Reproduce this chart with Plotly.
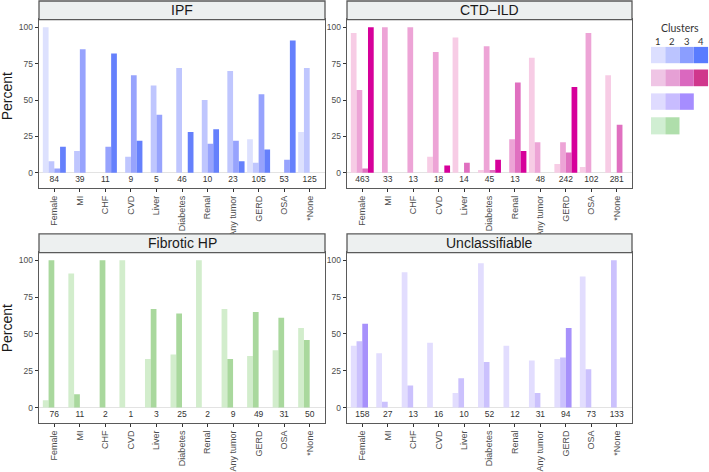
import plotly.graph_objects as go

W, H = 709, 472

categories = ["Female", "MI", "CHF", "CVD", "Liver", "Diabetes", "Renal",
              "Any tumor", "GERD", "OSA", "*None"]
cluster_names = ["1", "2", "3", "4"]

# IPF
ipf_c1 = [100, 0, 0, 0, 0, 0, 0, 0, 23, 0, 28]
ipf_c2 = [8, 15, 0, 11, 60, 72, 50, 70, 7, 0, 72]
ipf_c3 = [3, 85, 18, 67, 40, 0, 20, 22, 54, 9, 0]
ipf_c4 = [18, 0, 82, 22, 0, 28, 30, 8, 16, 91, 0]
ipf_n = [84, 39, 11, 9, 5, 46, 10, 23, 105, 53, 125]

# CTD-ILD
ctd_c1 = [96, 0, 0, 11, 93, 2, 0, 79, 6, 4, 67]
ctd_c2 = [57, 100, 100, 83, 0, 87, 23, 21, 21, 96, 0]
ctd_c3 = [3, 0, 0, 0, 7, 2, 62, 0, 14, 0, 33]
ctd_c4 = [100, 0, 0, 5, 0, 9, 15, 0, 59, 0, 0]
ctd_n = [463, 33, 13, 18, 14, 45, 13, 48, 242, 102, 281]

# Fibrotic HP (clusters 1-2 only)
hp_c1 = [5, 91, 0, 100, 33, 36, 100, 67, 35, 39, 54]
hp_c2 = [100, 9, 100, 0, 67, 64, 0, 33, 65, 61, 46]
hp_n = [76, 11, 2, 1, 3, 25, 2, 9, 49, 31, 50]

# Unclassifiable (clusters 1-3 only)
unc_c1 = [42, 37, 92, 44, 10, 98, 42, 32, 33, 89, 0]
unc_c2 = [45, 4, 15, 0, 20, 31, 0, 10, 34, 26, 100]
unc_c3 = [57, 0, 0, 0, 0, 0, 0, 0, 54, 0, 0]
unc_n = [158, 27, 13, 16, 10, 52, 12, 31, 94, 73, 133]

ipf_colors = ["#dde1fe", "#bfc6fe", "#97a3fd", "#6580fc"]
ctd_colors = ["#f7cce5", "#eda4d6", "#e070c0", "#d6009a"]
hp_colors = ["#d2edcc", "#a9d89d"]
unc_colors = ["#e2ddfe", "#cbc1fd", "#a791fb"]

leg_ipf = ["#dcdfff", "#bbc4ff", "#8b9eff", "#5a7cff"]
leg_ctd = ["#efc5e5", "#e6a0d5", "#da68bf", "#d0378c"]
leg_unc = ["#dfdbff", "#c8bcff", "#a68dff"]
leg_hp = ["#d0eed2", "#afdeab"]

panels = [
    ("IPF", [ipf_c1, ipf_c2, ipf_c3, ipf_c4], ipf_colors, ipf_n),
    ("CTD\u2212ILD", [ctd_c1, ctd_c2, ctd_c3, ctd_c4], ctd_colors, ctd_n),
    ("Fibrotic HP", [hp_c1, hp_c2], hp_colors, hp_n),
    ("Unclassifiable", [unc_c1, unc_c2, unc_c3], unc_colors, unc_n),
]

# panel pixel boxes (left, right, top, bottom)
boxes = [(39, 325, 20, 191), (347, 632, 20, 191),
         (39, 325, 257, 430), (347, 632, 257, 430)]
strip_h = 19

def px(x):
    return x / W

def py(y):
    return 1 - y / H

fig = go.Figure()
layout = dict(
    width=W, height=H, margin=dict(l=0, r=0, t=0, b=0),
    paper_bgcolor="white", plot_bgcolor="white",
    barmode="group", bargap=0.1, bargroupgap=0,
    showlegend=False, hovermode=False,
    font=dict(family="Liberation Sans, Arial, sans-serif", color="#333333"),
)
shapes = []
annotations = []

for i, (title, series, colors, counts) in enumerate(panels):
    k = "" if i == 0 else str(i + 1)
    xa, ya = "x" + k, "y" + k
    for j in range(4):
        vals = series[j] if j < len(series) else [0] * len(categories)
        col = colors[j] if j < len(colors) else "rgba(0,0,0,0)"
        fig.add_trace(go.Bar(x=categories, y=vals, name=cluster_names[j],
                             marker=dict(color=col, line=dict(width=0)),
                             xaxis=xa, yaxis=ya, hoverinfo="skip"))
    fig.add_trace(go.Scatter(x=categories, y=[-5] * len(categories),
                             text=[str(c) for c in counts], mode="text",
                             textfont=dict(size=8.5, color="#333333"),
                             xaxis=xa, yaxis=ya, hoverinfo="skip"))
    l, r, t, b = boxes[i]
    layout["xaxis" + k] = dict(
        domain=[px(l), px(r)], anchor=ya, type="category",
        categoryorder="array", categoryarray=categories,
        range=[-0.6, 10.6], showline=True, mirror=True,
        linecolor="#5a5a5a", linewidth=1.3, showgrid=False, zeroline=False,
        ticks="outside", ticklen=3, tickcolor="#333333", tickwidth=1,
        tickangle=-90, tickfont=dict(size=9, color="#4d4d4d"),
        fixedrange=True,
    )
    layout["yaxis" + k] = dict(
        domain=[py(b), py(t)], anchor=xa, range=[-10.25, 105.25],
        tickvals=[0, 25, 50, 75, 100], showline=True, mirror=True,
        linecolor="#5a5a5a", linewidth=1.3, showgrid=False,
        zeroline=True, zerolinecolor="#e3e3e3", zerolinewidth=1.2,
        ticks="outside", ticklen=3, tickcolor="#333333", tickwidth=1,
        tickfont=dict(size=8.5, color="#4d4d4d"), fixedrange=True,
    )
    shapes.append(dict(type="rect", xref="paper", yref="paper",
                       x0=px(l), x1=px(r), y0=py(t), y1=py(t - strip_h),
                       fillcolor="#edf0f0", line=dict(color="#5a5a5a", width=1.3)))
    annotations.append(dict(text=title, xref="paper", yref="paper",
                            x=px((l + r) / 2), y=py(t - strip_h / 2),
                            xanchor="center", yanchor="middle", showarrow=False,
                            font=dict(size=14, color="#1a1a1a")))

for yc in (98, 334):
    annotations.append(dict(text="Percent", xref="paper", yref="paper",
                            x=px(7), y=py(yc), textangle=-90, showarrow=False,
                            xanchor="center", yanchor="middle",
                            font=dict(size=14, color="#1a1a1a")))

# legend
annotations.append(dict(text="Clusters", xref="paper", yref="paper",
                        x=px(680), y=py(28.5), showarrow=False,
                        xanchor="center", yanchor="middle",
                        font=dict(family="Lato, sans-serif", size=10.5, color="#333333")))
sw_x = [651, 665.3, 679.6, 693.9]
sw_w = 14.2
for j, name in enumerate(cluster_names):
    annotations.append(dict(text=name, xref="paper", yref="paper",
                            x=px(sw_x[j] + sw_w / 2), y=py(42.5), showarrow=False,
                            xanchor="center", yanchor="middle",
                            font=dict(family="Lato, sans-serif", size=9.5, color="#333333")))
rows = [(leg_ipf, 47.7, 64.3), (leg_ctd, 70.7, 87.7),
        (leg_unc, 95, 111.7), (leg_hp, 119.3, 136.7)]
for cols, y0, y1 in rows:
    for j, c in enumerate(cols):
        shapes.append(dict(type="rect", xref="paper", yref="paper",
                           x0=px(sw_x[j]), x1=px(sw_x[j] + sw_w),
                           y0=py(y1), y1=py(y0), fillcolor=c, line=dict(width=0)))

layout["shapes"] = shapes
layout["annotations"] = annotations
fig.update_layout(**layout)
fig.write_html("out.html",
               config={"displayModeBar": False, "staticPlot": True},
               post_script="document.body.style.margin='0';"
                           "document.body.style.overflow='hidden';")
